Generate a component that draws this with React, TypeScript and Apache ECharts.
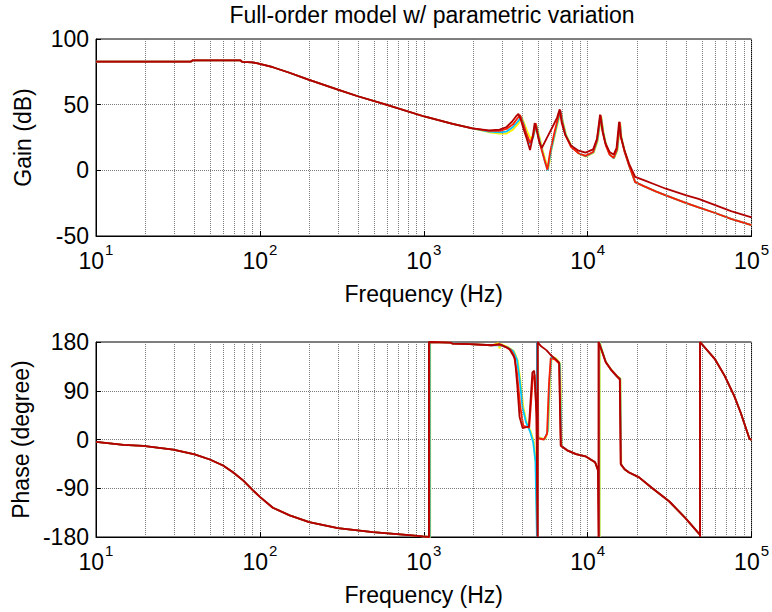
import React, { useEffect, useRef } from 'react';
import * as echarts from 'echarts';

const chartTitle = 'Full-order model w/ parametric variation';
const xAxisName = 'Frequency (Hz)';
const gainAxisName = 'Gain (dB)';
const phaseAxisName = 'Phase (degree)';

const decadeStarts = [10, 100, 1000, 10000];
const minorMultipliers = [2, 3, 4, 5, 6, 7, 8, 9];

const seriesNames = ['Case 1', 'Case 2', 'Case 3', 'Case 4'];
const seriesColors = ['#FFF000', '#00C8FF', '#FF1E00', '#B00000'];

// ---- Gain (dB), shared low-frequency part ----
const gainLow: [number, number][] = [
  [10, 82.8], [20, 82.8], [38, 82.8], [39, 83.8], [60, 83.8], [76, 83.8], [78, 82.6],
  [90, 82.2], [97, 81.5], [120, 78.5], [150, 74.5], [196, 69.2], [299, 61.5], [396, 56.4],
  [589, 50], [1007, 41], [1500, 35.3], [1980, 32],
];

const gainYellow: [number, number][] = [
  [2500, 29], [2900, 28], [3200, 28], [3500, 31], [3800, 36], [3950, 41], [4100, 36],
  [4300, 29], [4500, 24], [4700, 28], [4900, 34], [5050, 27], [5300, 16], [5550, 7],
  [5750, 1], [6000, 15], [6400, 30], [6700, 40], [6900, 44], [7100, 36], [7400, 27],
  [8000, 18], [8900, 12.5], [9800, 10.5], [10900, 13.5], [11500, 22], [12100, 41],
  [12500, 29], [13000, 19], [13700, 12], [14500, 9], [15200, 15], [15800, 36],
  [16100, 25], [16900, 14], [18000, 3],
];
const gainCyan: [number, number][] = [
  [2500, 29.5], [2900, 29], [3200, 29.5], [3500, 33], [3800, 38], [3920, 41], [4050, 36],
  [4250, 27], [4450, 20], [4650, 25], [4850, 35], [5000, 27], [5250, 16], [5500, 6],
  [5700, 0], [5950, 14], [6350, 30], [6650, 40], [6850, 45], [7050, 36.5], [7350, 27],
  [7950, 18], [8850, 12.8], [9750, 10.8], [10850, 13.8], [11450, 22.5], [12050, 41.5],
  [12450, 29], [12950, 19], [13650, 12], [14450, 9.2], [15150, 15.5], [15750, 36.5],
  [16050, 25], [16850, 14], [17950, 3.2],
];
const gainRed: [number, number][] = [
  [2500, 30], [2900, 30], [3200, 31.5], [3500, 35], [3750, 40], [3870, 42], [4000, 37],
  [4200, 29], [4450, 21], [4650, 26], [4820, 36], [4950, 28], [5200, 17], [5450, 8],
  [5680, 0.5], [5900, 14], [6300, 30], [6600, 40], [6800, 46], [7000, 37], [7300, 27],
  [7900, 18], [8800, 13], [9700, 11], [10800, 14], [11400, 23], [12000, 42], [12400, 29],
  [12900, 19], [13600, 12], [14400, 9.5], [15100, 16], [15700, 37], [16000, 25],
  [16800, 14], [17900, 3.5],
];
const gainDarkRed: [number, number][] = [
  [2500, 30.5], [2900, 31], [3200, 33], [3450, 37], [3650, 41], [3780, 43], [3900, 39],
  [4050, 32], [4250, 24], [4450, 15.5], [4600, 24], [4750, 36], [4900, 30], [5050, 22],
  [5250, 17], [5600, 24], [6100, 33], [6500, 40], [6750, 46.5], [6950, 36], [7300, 27],
  [7900, 19], [8800, 15], [9700, 13.5], [10800, 16], [11400, 24], [11900, 42.5],
  [12300, 30], [12800, 21], [13600, 14], [14400, 12], [15000, 17], [15550, 37],
  [15900, 26], [16700, 16], [17900, 5], [19500, -5], [22000, -7.5], [26000, -11],
  [30000, -14], [40000, -19], [47500, -21.8], [60000, -26.5], [75000, -31], [100000, -35.8],
];
const gainTailLower: [number, number][] = [
  [19500, -9], [22000, -12], [26000, -16], [30000, -19], [40000, -25], [47500, -28.2],
  [60000, -32.5], [75000, -37], [100000, -41.8],
];

// ---- Phase (degree) ----
const phaseLow: [number, number][] = [
  [10, -4.4], [14.7, -10], [19.4, -11.9], [29.6, -18.8], [40, -27.5], [49.5, -36.9],
  [59.6, -48], [68.5, -60.6], [79.3, -76], [90.8, -93.8], [100, -106], [120, -126],
  [152, -140], [200, -152.5], [299, -163.8], [489, -171], [780, -176], [986, -179],
];
const phaseYellow: [number, number][] = [
  [1095, -180], [1095, 180], [1450, 179], [1500, 177], [1900, 176], [2600, 174],
  [2850, 178], [2900, 168], [2950, 176], [3300, 170], [3550, 163], [3750, 145],
  [3900, 105], [4050, 60], [4250, 30], [4500, 15], [4700, -5], [4850, -50], [4920, -180],
  [4920, 180], [4980, 5], [5500, 0], [5750, 18], [5900, 115], [6050, 153], [6400, 150],
  [6800, 140], [6950, -13], [7500, -20], [8500, -27], [9700, -31], [11100, -42],
  [11700, -57], [11850, -180], [11850, 180], [12250, 165], [12900, 144], [14000, 128],
  [15100, 117], [15850, 113], [16050, -47], [16800, -55],
];
const phaseCyan: [number, number][] = [
  [1088, -180], [1088, 180], [1450, 179], [1500, 177], [1900, 176], [2600, 174],
  [2900, 174], [3250, 170], [3500, 164], [3700, 148], [3850, 110], [4000, 60], [4200, 32],
  [4450, 15], [4650, -5], [4800, -40], [4900, -180], [4900, 180], [4960, 3], [5450, 0],
  [5700, 15], [5850, 110], [6000, 152], [6350, 149], [6750, 140], [6920, -12],
  [7500, -20], [8500, -27], [9700, -31], [11100, -42], [11650, -57], [11780, -180],
  [11780, 180], [12200, 165], [12900, 143], [14000, 127], [15100, 116], [15800, 112],
  [16000, -46], [16800, -55],
];
const phaseRed: [number, number][] = [
  [1080, -180], [1080, 180], [1450, 179], [1500, 177], [1900, 176], [2600, 174],
  [2900, 175], [3200, 170], [3400, 165], [3550, 155], [3700, 125], [3880, 60], [4050, 25],
  [4400, 22], [4620, 110], [4750, 120], [4880, 40], [4960, -180], [4960, 180], [5000, 2],
  [5400, 0], [5650, 10], [5800, 100], [5950, 150], [6300, 148], [6700, 140], [6880, -12],
  [7500, -20], [8500, -27], [9700, -31], [11100, -42], [11600, -57], [11700, -180],
  [11700, 180], [12150, 165], [12900, 142], [14000, 127], [15100, 116], [15750, 110],
  [15950, -46], [16800, -55],
];
const phaseDarkRed: [number, number][] = [
  [1075, -180], [1075, 180], [1450, 179], [1500, 177], [1900, 176], [2600, 174],
  [2900, 176], [3150, 171], [3330, 167], [3470, 158], [3600, 149], [3720, 100],
  [3840, 42], [4010, 21], [4380, 24], [4600, 124], [4720, 127], [4870, 49], [4950, -180],
  [4950, 180], [5200, 172], [5600, 165], [6000, 155], [6400, 148], [6700, 142],
  [6840, -11], [7500, -20], [8500, -27], [9700, -31], [11100, -42], [11550, -57],
  [11650, -180], [11650, 180], [12100, 167], [12900, 143], [14000, 128], [15100, 117],
  [15700, 112], [15900, -45], [16800, -55],
];
const phaseTail: [number, number][] = [
  [17900, -61], [20600, -70], [24600, -89], [31400, -114], [39500, -145], [48500, -176],
  [48500, -180], [48500, 180], [59600, 149], [68700, 117], [78500, 80], [86000, 49],
  [97000, 2], [100000, -1],
];

const gainSeriesData = [
  gainLow.concat(gainYellow, gainTailLower),
  gainLow.concat(gainCyan, gainTailLower),
  gainLow.concat(gainRed, gainTailLower),
  gainLow.concat(gainDarkRed),
];
const phaseSeriesData = [
  phaseLow.concat(phaseYellow, phaseTail),
  phaseLow.concat(phaseCyan, phaseTail),
  phaseLow.concat(phaseRed, phaseTail),
  phaseLow.concat(phaseDarkRed, phaseTail),
];

const FONT = 'Liberation Sans, Arial, Helvetica, sans-serif';
const FS = 23;

function buildOption() {
  const minorFreqs = decadeStarts.flatMap((d) => minorMultipliers.map((m) => d * m));
  const gridLine = { type: 'dotted' as const, color: '#7a7a7a', width: 1 };

  const xAxisFor = (gridIndex: number) => ({
    type: 'log',
    logBase: 10,
    min: 10,
    max: 100000,
    gridIndex,
    axisLine: { show: true, onZero: false, lineStyle: { color: '#000', width: 1 } },
    axisTick: { show: true, inside: true, length: 5, lineStyle: { color: '#000' } },
    splitLine: { show: true, lineStyle: gridLine },
    axisLabel: {
      margin: 6,
      formatter: (v: number) => `{b|10}{e|${Math.round(Math.log10(v))}}`,
      rich: {
        b: { fontSize: FS, fontFamily: FONT, color: '#000', lineHeight: 30, verticalAlign: 'bottom' },
        e: { fontSize: 15, fontFamily: FONT, color: '#000', lineHeight: 15, verticalAlign: 'top', padding: [0, 0, 0, 1] },
      },
    },
    name: xAxisName,
    nameLocation: 'middle',
    nameGap: 46,
    nameTextStyle: { fontSize: FS, fontFamily: FONT, color: '#000' },
  });

  const yAxisFor = (gridIndex: number, min: number, max: number, interval: number, name: string) => ({
    type: 'value',
    gridIndex,
    min,
    max,
    interval,
    axisLine: { show: true, onZero: false, lineStyle: { color: '#000', width: 1 } },
    axisTick: { show: true, inside: true, length: 5, lineStyle: { color: '#000' } },
    splitLine: { show: true, lineStyle: gridLine },
    axisLabel: { fontSize: FS, fontFamily: FONT, color: '#000', margin: 7 },
    name,
    nameLocation: 'middle',
    nameGap: 62,
    nameTextStyle: { fontSize: FS, fontFamily: FONT, color: '#000' },
  });

  const series: any[] = [];
  [0, 1].forEach((g) => {
    series.push({
      type: 'line',
      name: 'grid' + g,
      xAxisIndex: g,
      yAxisIndex: g,
      data: [],
      silent: true,
      z: 1,
      markLine: {
        silent: true,
        symbol: ['none', 'none'],
        label: { show: false },
        lineStyle: gridLine,
        animation: false,
        data: minorFreqs.map((f) => ({ xAxis: f })),
      },
    });
  });
  seriesNames.forEach((name, i) => {
    series.push({
      type: 'line',
      name,
      xAxisIndex: 0,
      yAxisIndex: 0,
      data: gainSeriesData[i],
      showSymbol: false,
      symbol: 'none',
      lineStyle: { color: seriesColors[i], width: 1.8 },
      itemStyle: { color: seriesColors[i] },
      z: 2 + i,
    });
    series.push({
      type: 'line',
      name,
      xAxisIndex: 1,
      yAxisIndex: 1,
      data: phaseSeriesData[i],
      showSymbol: false,
      symbol: 'none',
      lineStyle: { color: seriesColors[i], width: 1.8 },
      itemStyle: { color: seriesColors[i] },
      z: 2 + i,
    });
  });

  return {
    animation: false,
    backgroundColor: '#fff',
    title: {
      text: chartTitle,
      left: 427,
      top: -2,
      textAlign: 'center',
      textStyle: { fontSize: FS, fontWeight: 'normal', fontFamily: FONT, color: '#000' },
    },
    grid: [
      { left: 96, top: 39, width: 657, height: 197, show: true, borderColor: '#000', borderWidth: 1, backgroundColor: 'transparent' },
      { left: 96, top: 342, width: 657, height: 195, show: true, borderColor: '#000', borderWidth: 1, backgroundColor: 'transparent' },
    ],
    xAxis: [xAxisFor(0), xAxisFor(1)],
    yAxis: [
      yAxisFor(0, -50, 100, 50, gainAxisName),
      yAxisFor(1, -180, 180, 90, phaseAxisName),
    ],
    series,
  };
}

export default function App() {
  const ref = useRef<HTMLDivElement>(null);
  useEffect(() => {
    if (!ref.current) return;
    const chart = echarts.init(ref.current, null, { renderer: 'svg' });
    chart.setOption(buildOption() as any);
    return () => chart.dispose();
  }, []);
  return (
    <div
      ref={ref}
      style={{ position: 'fixed', left: 0, top: 0, width: 772, height: 612, background: '#fff' }}
    />
  );
}
